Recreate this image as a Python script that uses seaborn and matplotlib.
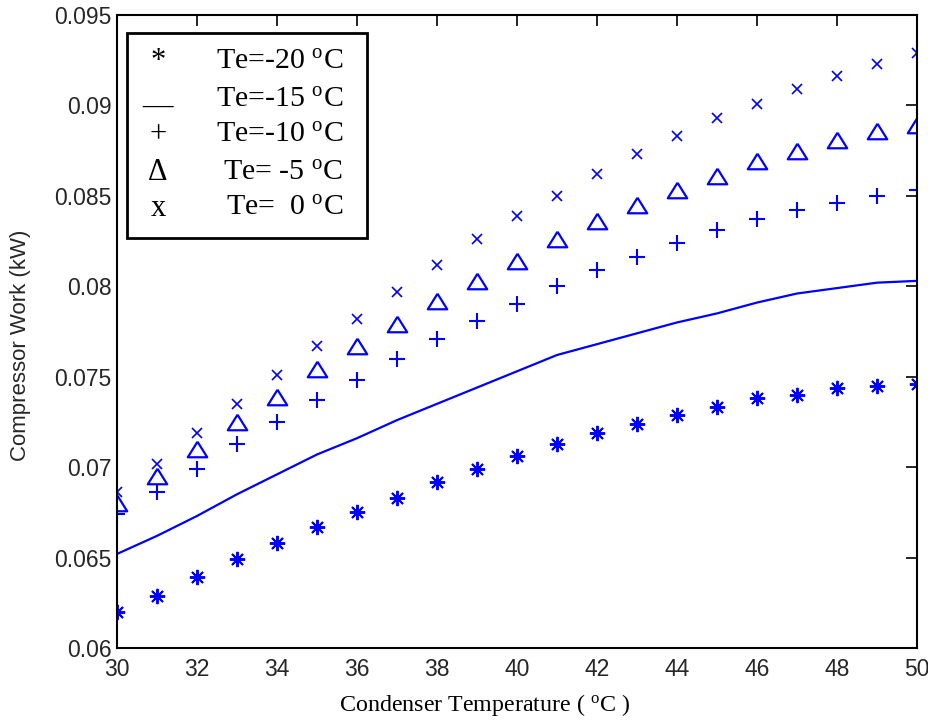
import numpy as np
import pandas as pd
import matplotlib
matplotlib.use("Agg")
import matplotlib.pyplot as plt
import seaborn as sns
from matplotlib.patches import Rectangle

# ---- data ----
cond_temp = [30, 31, 32, 33, 34, 35, 36, 37, 38, 39, 40,
             41, 42, 43, 44, 45, 46, 47, 48, 49, 50]
work_te_m20 = [0.0620, 0.0629, 0.0639, 0.0649, 0.0658, 0.0667, 0.0675, 0.0683, 0.0692, 0.0699, 0.0706,
               0.0713, 0.0719, 0.0724, 0.0729, 0.0733, 0.0738, 0.0740, 0.0744, 0.0745, 0.0746]
work_te_m15 = [0.0652, 0.0662, 0.0673, 0.0685, 0.0696, 0.0707, 0.0716, 0.0726, 0.0735, 0.0744, 0.0753,
               0.0762, 0.0768, 0.0774, 0.0780, 0.0785, 0.0791, 0.0796, 0.0799, 0.0802, 0.0803]
work_te_m10 = [0.0674, 0.0686, 0.0699, 0.0713, 0.0725, 0.0737, 0.0748, 0.0760, 0.0771, 0.0781, 0.0790,
               0.0800, 0.0809, 0.0816, 0.0824, 0.0831, 0.0837, 0.0842, 0.0846, 0.0850, 0.0853]
work_te_m5 = [0.0680, 0.0695, 0.0710, 0.0725, 0.0739, 0.0754, 0.0767, 0.0779, 0.0792, 0.0803, 0.0814,
              0.0826, 0.0836, 0.0845, 0.0853, 0.0861, 0.0869, 0.0875, 0.0881, 0.0886, 0.0889]
work_te_0 = [0.0686, 0.0702, 0.0719, 0.0735, 0.0751, 0.0767, 0.0782, 0.0797, 0.0812, 0.0826, 0.0839,
             0.0850, 0.0862, 0.0873, 0.0883, 0.0893, 0.0901, 0.0909, 0.0916, 0.0923, 0.0929]

x_ticks = [30, 32, 34, 36, 38, 40, 42, 44, 46, 48, 50]
y_ticks = [0.06, 0.065, 0.07, 0.075, 0.08, 0.085, 0.09, 0.095]
y_tick_labels = ["0.06", "0.065", "0.07", "0.075", "0.08", "0.085", "0.09", "0.095"]

legend_symbols = ["*", "\u2014", "+", "\u0394", "x"]
legend_labels = ["Te=-20 $^{\\rm o}$C", "Te=-15 $^{\\rm o}$C", "Te=-10 $^{\\rm o}$C",
                 "Te= -5 $^{\\rm o}$C", "Te=  0 $^{\\rm o}$C"]

# ---- style ----
sns.set_theme(style="white")
plt.rcParams['font.family'] = ['Liberation Sans', 'DejaVu Sans']
plt.rcParams['mathtext.fontset'] = 'custom'
plt.rcParams['mathtext.rm'] = 'Liberation Serif'
plt.rcParams['mathtext.it'] = 'Liberation Serif:italic'
plt.rcParams['mathtext.bf'] = 'Liberation Serif:bold'

fig = plt.figure(figsize=(9.29, 7.23), dpi=100)
ax = fig.add_axes([117/929, 75/723, 800/929, 633/723])

blue = '#0000FF'
df = pd.DataFrame({"T": cond_temp, "m20": work_te_m20, "m15": work_te_m15,
                   "m10": work_te_m10, "m5": work_te_m5, "z0": work_te_0})

tri = [(0, 0.8), (-1, -0.8), (1, -0.8), (0, 0.8)]

sns.lineplot(data=df, x="T", y="m15", ax=ax, color=blue, linewidth=1.6)
sns.lineplot(data=df, x="T", y="m20", ax=ax, color=blue, linestyle='none',
             marker=(8, 2, 0), markersize=11, markeredgewidth=1.4, markeredgecolor=blue)
sns.lineplot(data=df, x="T", y="m10", ax=ax, color=blue, linestyle='none',
             marker='+', markersize=12, markeredgewidth=1.5, markeredgecolor=blue)
sns.lineplot(data=df, x="T", y="m5", ax=ax, color=blue, linestyle='none',
             marker=tri, markersize=14, markeredgewidth=1.6, markeredgecolor=blue,
             markerfacecolor='none')
sns.lineplot(data=df, x="T", y="z0", ax=ax, color=blue, linestyle='none',
             marker='x', markersize=6.5, markeredgewidth=1.2, markeredgecolor=blue)

ax.set_xlim(30, 50)
ax.set_ylim(0.06, 0.095)
ax.set_xticks(x_ticks)
ax.set_xticklabels([str(t) for t in x_ticks])
ax.set_yticks(y_ticks)
ax.set_yticklabels(y_tick_labels)
ax.tick_params(direction='in', length=8, width=1.2, top=True, right=True,
               labelsize=16.5, colors='black', labelcolor='#262626', pad=4)
ax.tick_params(axis='x', pad=7)
for s in ax.spines.values():
    s.set_visible(True)
    s.set_color('black')
    s.set_linewidth(1.5)

ax.set_ylabel("Compressor Work (kW)", fontsize=16, color='#262626')
ax.yaxis.set_label_coords((31 - 117) / 800, (648 - 345) / 633)
ax.set_xlabel("Condenser Temperature ( $^{\\rm o}$C )", fontsize=17.3,
              family=['Liberation Serif'], color='black')
ax.xaxis.set_label_coords((485 - 117) / 800, (648 - 692) / 633)

# ---- legend box ----
ax.add_patch(Rectangle((0.0125, 0.6477), 0.30, 0.3239, transform=ax.transAxes,
                       facecolor='white', edgecolor='black', linewidth=2, zorder=5))
row_y = [61.7, 100, 135, 173, 208]
sym_dy = [0, 6, 0, 0, 0]
for sym, lab, yp, dy in zip(legend_symbols, legend_labels, row_y, sym_dy):
    ya = (648 - yp) / 633
    ys = (648 - yp - dy) / 633
    xs = (158 - 117) / 800
    ax.text(xs, ys, sym, transform=ax.transAxes, ha='center', va='center',
            fontsize=22, family=['Liberation Serif', 'DejaVu Serif'], zorder=6, color='black')
    ax.text((343 - 117) / 800, ya, lab, transform=ax.transAxes, ha='right', va='center',
            fontsize=21.5, family=['Liberation Serif'], zorder=6, color='black')

fig.savefig("out.png", dpi=100)
